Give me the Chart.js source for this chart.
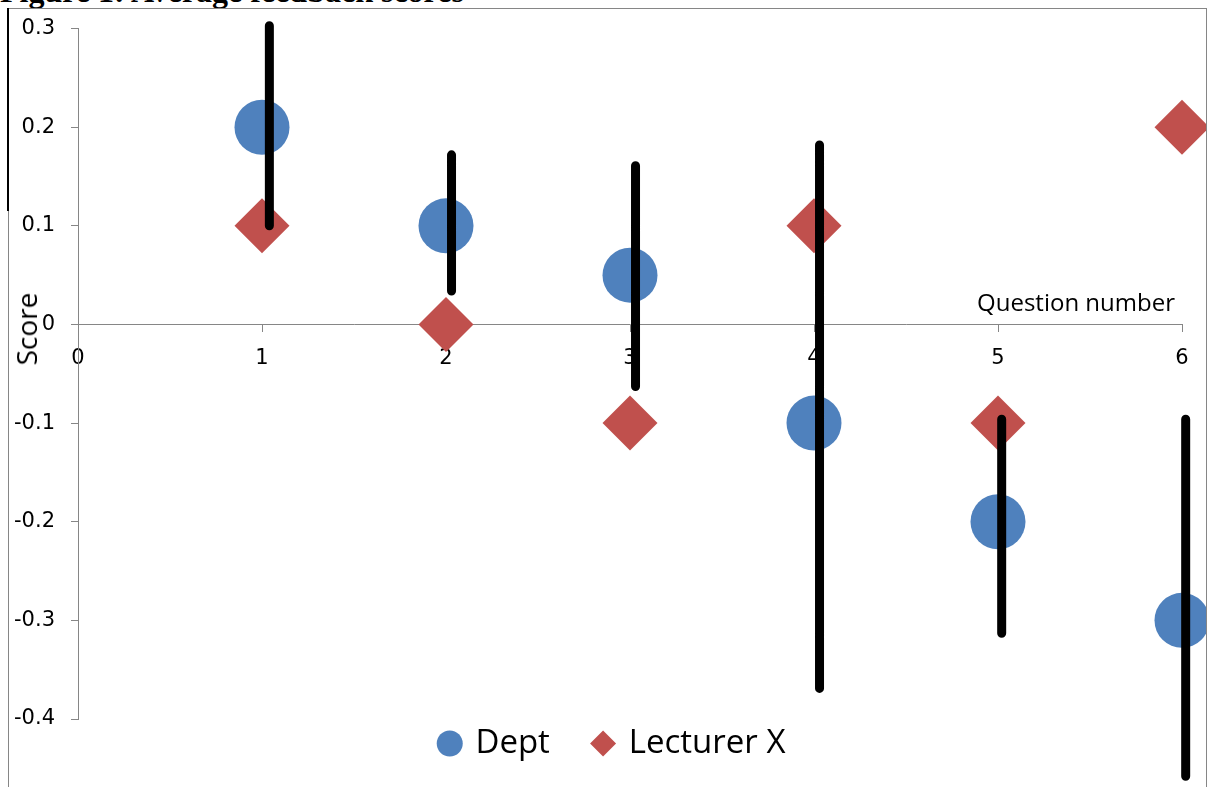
<!DOCTYPE html>
<html>
<head>
<meta charset="utf-8">
<title>Average feedback scores</title>
<script src="https://cdn.jsdelivr.net/npm/chart.js@4/dist/chart.umd.min.js"></script>
<style>
  html, body { margin: 0; padding: 0; background: #fff; }
  body { width: 1216px; height: 787px; position: relative; overflow: hidden; }
  #fig-title {
    position: absolute; left: 0; top: -25px; margin: 0;
    font: bold 32px/32px "Liberation Serif", serif; color: #000; white-space: nowrap;
  }
  #frame {
    position: absolute; left: 8px; top: 8px; width: 1199px; height: 800px; box-sizing: border-box;
    border: 1px solid #868686; border-bottom: none;
  }
  #page-rule { position: absolute; left: 7px; top: 8px; width: 2px; height: 203px; background: #000; }
  #wrap { position: absolute; left: 0; top: 0; width: 1206px; height: 787px; }
  .axis-title { position: absolute; font-family: "Open Sans", sans-serif; color: #000; white-space: nowrap; }
  #y-title { left: 26px; top: 329px; font-size: 28px; line-height: 28px; transform: translate(-50%, -50%) rotate(-90deg); }
  #x-title { right: 41px; top: 290px; font-size: 24px; line-height: 24px; }
</style>
</head>
<body>
<div id="fig-title">Figure 1: Average feedback scores</div>
<div id="frame"></div>
<div id="page-rule"></div>
<div id="wrap"><canvas id="chart-feedback"></canvas></div>
<div class="axis-title" id="y-title">Score</div>
<div class="axis-title" id="x-title">Question number</div>

<script>
// ── data ────────────────────────────────────────────────────────────────────
const questions      = [1, 2, 3, 4, 5, 6];
const deptScores     = [0.2, 0.1, 0.05, -0.1, -0.2, -0.3];
const lecturerScores = [0.1, 0, -0.1, 0.1, -0.1, 0.2];

// black range bars, drawn a touch right of each question
const rangeX    = [1.04, 2.03, 3.03, 4.03, 5.02, 6.02];
const rangeHigh = [0.303, 0.172, 0.161, 0.182, -0.096, -0.096];
const rangeLow  = [0.100, 0.034, -0.063, -0.369, -0.313, -0.458];

const xTicks = [0, 1, 2, 3, 4, 5, 6];
const yTicks = [0.3, 0.2, 0.1, 0, -0.1, -0.2, -0.3, -0.4];

const AXIS_GREY = "#868686";

// null point between bars breaks the line into separate segments
const rangePoints = rangeX.flatMap((x, i) => [
  { x, y: rangeHigh[i] },
  { x, y: rangeLow[i] },
  { x, y: null },
]);

// legend sits over the gap below the plot, centred under the marks
const legendSpot = {
  id: "legendSpot",
  afterLayout(chart) {
    const lg = chart.legend;
    lg.top = 683;
    lg.bottom = 787;
    lg.left = 0;
    lg.right = 1226;
  },
};

new Chart(document.getElementById("chart-feedback"), {
  type: "scatter",
  data: {
    datasets: [
      {
        label:            "range",
        data:             rangePoints,
        showLine:         true,
        spanGaps:         false,
        borderColor:      "#000",
        borderWidth:      9,
        borderCapStyle:   "round",
        pointRadius:      0,
        pointHoverRadius: 0,
        clip:             false,
        order:            0,
      },
      {
        label:                "Dept",
        data:                 questions.map((q, i) => ({ x: q, y: deptScores[i] })),
        pointStyle:           "circle",
        pointRadius:          27.5,
        pointHoverRadius:     27.5,
        backgroundColor:      "#4f81bd",
        pointBackgroundColor: "#4f81bd",
        borderWidth:          0,
        pointBorderWidth:     0,
        clip:                 false,
        order:                1,
      },
      {
        label:                "Lecturer X",
        data:                 questions.map((q, i) => ({ x: q, y: lecturerScores[i] })),
        pointStyle:           "rectRot",
        pointRadius:          27.5,
        pointHoverRadius:     27.5,
        backgroundColor:      "#c0504d",
        pointBackgroundColor: "#c0504d",
        borderWidth:          0,
        pointBorderWidth:     0,
        clip:                 false,
        order:                2,
      },
    ],
  },
  options: {
    responsive:          true,
    maintainAspectRatio: false,
    animation:           false,
    // big markers would otherwise widen the padding; the plot box is fixed here
    layout: { autoPadding: false, padding: { top: 25, right: 24, bottom: 0, left: 0 } },
    plugins: {
      tooltip: { enabled: false },
      legend: {
        display:   true,
        position:  "bottom",
        maxHeight: 68,
        labels: {
          usePointStyle: true,
          boxWidth:      18.4,
          boxHeight:     18.4,
          padding:       44,
          color:         "#000",
          font:          { family: "'Open Sans'", size: 33 },
          filter:        (item) => item.text !== "range",
        },
      },
    },
    scales: {
      x: {
        type:     "linear",
        position: { y: 0 },
        // range set after data limits (not as min/max) so the bar past x=6 still draws
        afterDataLimits: (s) => { s.min = xTicks[0]; s.max = xTicks[xTicks.length - 1]; },
        afterBuildTicks: (s) => { s.ticks = xTicks.map((v) => ({ value: v })); },
        ticks: {
          color:    "#000",
          font:     { family: "'DejaVu Sans'", size: 21 },
          padding:  14,
          maxRotation: 0,
          callback: (v) => String(v),
        },
        grid:   { drawOnChartArea: false, tickLength: 7, color: AXIS_GREY },
        border: { color: AXIS_GREY, width: 1 },
      },
      y: {
        type:     "linear",
        position: "left",
        min:      -0.4,
        max:      0.3,
        afterFit: (s) => { s.width = 78; },
        afterBuildTicks: (s) => { s.ticks = yTicks.map((v) => ({ value: v })); },
        ticks: {
          color:    "#000",
          font:     { family: "'DejaVu Sans'", size: 21 },
          padding:  16,
          callback: (v) => String(v),
        },
        grid:   { drawOnChartArea: false, tickLength: 7, color: AXIS_GREY },
        border: { color: AXIS_GREY, width: 1 },
      },
    },
  },
  plugins: [legendSpot],
});
</script>
</body>
</html>
